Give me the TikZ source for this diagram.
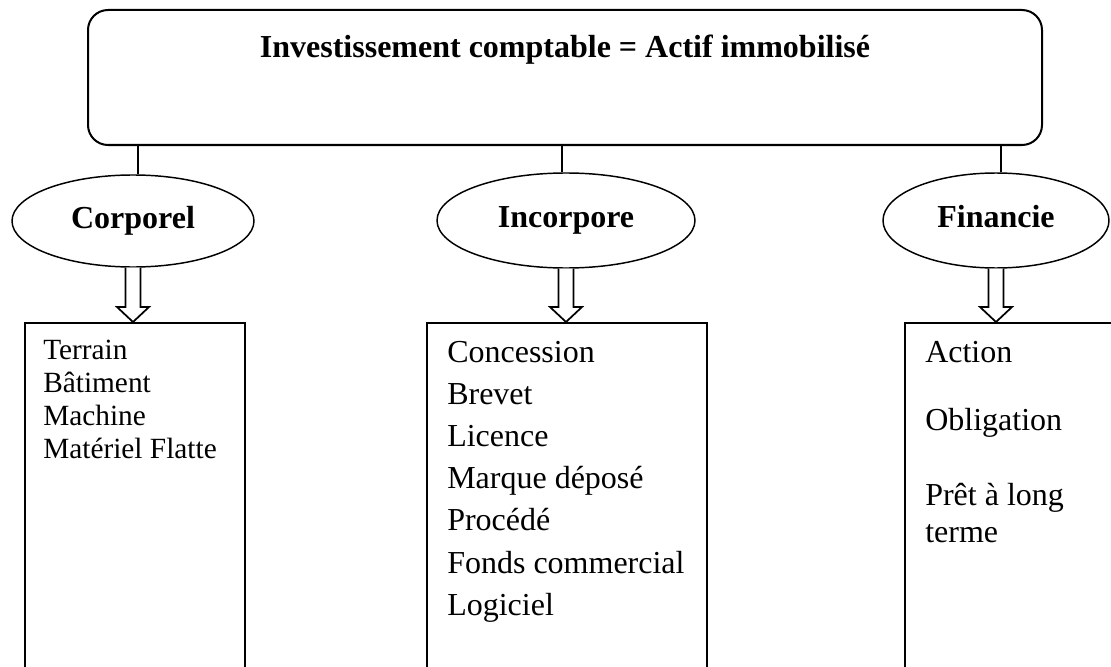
\documentclass[tikz,border=0pt]{standalone}
\usepackage{fontspec}
\setmainfont{Liberation Serif}
\usetikzlibrary{shapes.geometric,calc}
\begin{document}
\begin{tikzpicture}[x=0.75pt,y=-0.75pt,
  txt/.style={font=\fontsize{24}{28}\selectfont, inner sep=0, anchor=base west},
  smalltxt/.style={font=\fontsize{22}{26}\selectfont, inner sep=0, anchor=base west},
  boldtxt/.style={font=\fontsize{24}{28}\selectfont\bfseries, inner sep=0},
  cat/.style={ellipse, draw, line width=1.1pt, inner sep=0, text height=16.3pt, text depth=5.3pt, font=\fontsize{24}{28}\selectfont\bfseries},
  conn/.style={line width=1.5pt},
  itembox/.style={draw, line width=1.5pt, inner sep=0, anchor=north west},
  hollow/.style={draw, line width=1.3pt, fill=white, line join=miter}]
\useasboundingbox (0,0) rectangle (1111,667);
\clip (0,0) rectangle (1111,667);
% top box
\node[draw, line width=1.5pt, rounded corners=15pt, minimum width=715.5pt, minimum height=101.25pt, inner sep=0] (top) at (565,77.5) {};
\node[boldtxt, anchor=base] (title) at (565,58) {Investissement comptable = Actif immobilisé};
% categories
\node[cat, minimum width=181.5pt, minimum height=69pt] (e1) at (133,221) {Corporel};
\node[cat, minimum width=193.5pt, minimum height=71.25pt] (e2) at (566,220.5) {Incorpore};
\node[cat, minimum width=169.5pt, minimum height=71.25pt] (e3) at (996,220.5) {Financie};
% connectors
\draw[conn] ([xshift=3.75pt]e1.north |- top.south) -- ([xshift=3.75pt]e1.north);
\draw[conn] ([xshift=-3pt]e2.north |- top.south) -- ([xshift=-3pt]e2.north);
\draw[conn] ([xshift=3.75pt]e3.north |- top.south) -- ([xshift=3.75pt]e3.north);
% item boxes
\node[itembox, minimum width=165pt, minimum height=300pt] (b1) at (24,322) {};
\node[itembox, minimum width=210pt, minimum height=300pt] (b2) at (426,322) {};
\node[itembox, minimum width=225pt, minimum height=300pt] (b3) at (904,322) {};
% hollow arrows
\foreach \e/\b in {e1/b1,e2/b2,e3/b3}{
  \draw[hollow] let \p1=(\e.south), \p2=(\b.north) in
    (\x1-5.6pt,\y1) -- (\x1-5.6pt,\y2+11.25pt) -- (\x1-12pt,\y2+11.25pt) -- (\x1,\y2)
    -- (\x1+12pt,\y2+11.25pt) -- (\x1+5.6pt,\y2+11.25pt) -- (\x1+5.6pt,\y1);
}
% items
\foreach \t [count=\i] in {Terrain,Bâtiment,Machine,Matériel Flatte}
  \node[smalltxt] (a\i) at (43,{359+33*(\i-1)}) {\t};
\foreach \t [count=\i] in {Concession,Brevet,Licence,Marque déposé,Procédé,Fonds commercial,Logiciel}
  \node[txt] (c\i) at (447,{362+42.2*(\i-1)}) {\t};
\node[txt] (f1) at (925,362) {Action};
\node[txt] (f2) at (925,430) {Obligation};
\node[txt] (f3) at (925,505) {Prêt à long};
\node[txt] (f4) at (925,542) {terme};
\end{tikzpicture}
\end{document}
